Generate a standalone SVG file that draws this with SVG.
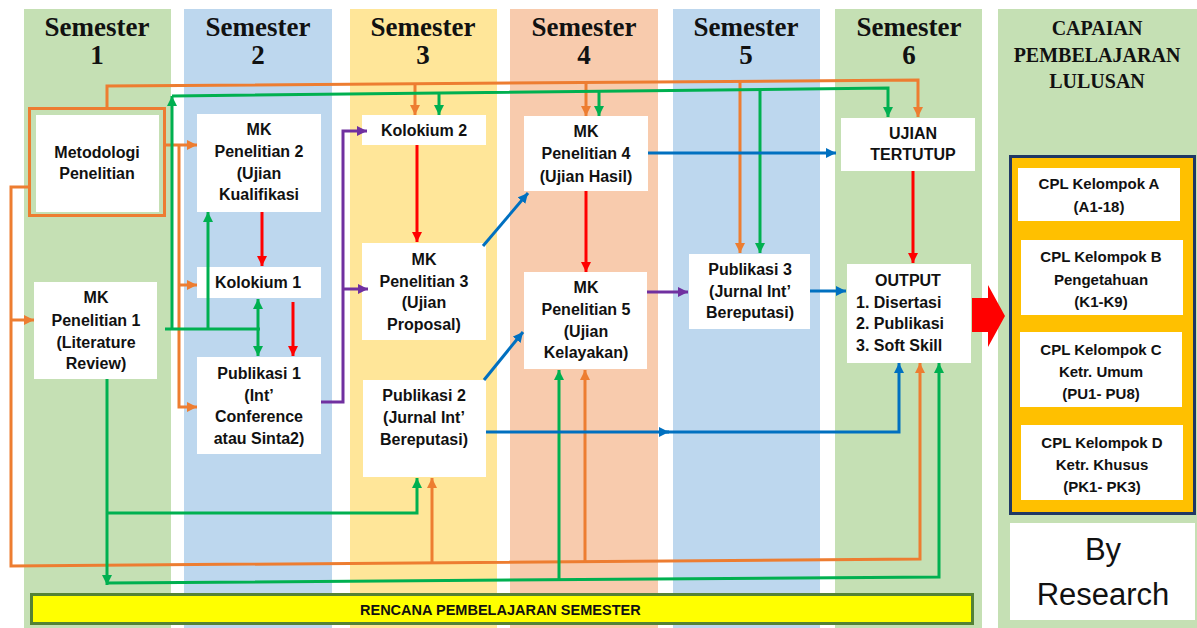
<svg xmlns="http://www.w3.org/2000/svg" width="1197" height="628" viewBox="0 0 1197 628">
<style>
.hd{font-family:"Liberation Serif","Times New Roman",serif;font-weight:bold;font-size:27px;fill:#111;text-anchor:middle}
.cp{font-family:"Liberation Serif","Times New Roman",serif;font-weight:bold;font-size:20px;fill:#111;text-anchor:middle}
.t{font-family:"Liberation Sans",Arial,sans-serif;font-weight:bold;font-size:16px;fill:#111;text-anchor:middle}
.ts{font-family:"Liberation Sans",Arial,sans-serif;font-weight:bold;font-size:15px;fill:#111;text-anchor:middle}
.tl{font-family:"Liberation Sans",Arial,sans-serif;font-weight:bold;font-size:16px;fill:#111}
.br{font-family:"Liberation Sans",Arial,sans-serif;font-size:31px;fill:#111;text-anchor:middle}
.bx{fill:#fff}
.c{fill:none;stroke-width:3}
.o{stroke:#ED7D31}.g{stroke:#00B050}.r{stroke:#FF0000}.p{stroke:#7030A0}.b{stroke:#0070C0}
</style>
<defs>
<marker id="ao" markerUnits="userSpaceOnUse" markerWidth="11" markerHeight="11" refX="10" refY="5" orient="auto-start-reverse"><path d="M0,0 L10,5 L0,10 z" fill="#ED7D31"/></marker>
<marker id="ag" markerUnits="userSpaceOnUse" markerWidth="11" markerHeight="11" refX="10" refY="5" orient="auto-start-reverse"><path d="M0,0 L10,5 L0,10 z" fill="#00B050"/></marker>
<marker id="ar" markerUnits="userSpaceOnUse" markerWidth="11" markerHeight="11" refX="10" refY="5" orient="auto-start-reverse"><path d="M0,0 L10,5 L0,10 z" fill="#FF0000"/></marker>
<marker id="ap" markerUnits="userSpaceOnUse" markerWidth="11" markerHeight="11" refX="10" refY="5" orient="auto-start-reverse"><path d="M0,0 L10,5 L0,10 z" fill="#7030A0"/></marker>
<marker id="ab" markerUnits="userSpaceOnUse" markerWidth="11" markerHeight="11" refX="10" refY="5" orient="auto-start-reverse"><path d="M0,0 L10,5 L0,10 z" fill="#0070C0"/></marker>
</defs>
<rect width="1197" height="628" fill="#fff"/>
<g id="columns">
<rect x="24" y="9" width="147" height="619" fill="#C5E0B4"/>
<rect x="184" y="9" width="148" height="619" fill="#BDD7EE"/>
<rect x="350" y="9" width="147" height="619" fill="#FFE699"/>
<rect x="510" y="9" width="148" height="619" fill="#F8CBAD"/>
<rect x="673" y="9" width="147" height="619" fill="#BDD7EE"/>
<rect x="835" y="9" width="147" height="619" fill="#C5E0B4"/>
<rect x="998" y="9" width="199" height="619" fill="#C5E0B4"/>
<text class="hd" x="97" y="36">Semester</text><text class="hd" x="97" y="64">1</text>
<text class="hd" x="258" y="36">Semester</text><text class="hd" x="258" y="64">2</text>
<text class="hd" x="423" y="36">Semester</text><text class="hd" x="423" y="64">3</text>
<text class="hd" x="584" y="36">Semester</text><text class="hd" x="584" y="64">4</text>
<text class="hd" x="746" y="36">Semester</text><text class="hd" x="746" y="64">5</text>
<text class="hd" x="909" y="36">Semester</text><text class="hd" x="909" y="64">6</text>
<text class="cp" x="1097" y="35">CAPAIAN</text>
<text class="cp" x="1097" y="62">PEMBELAJARAN</text>
<text class="cp" x="1097" y="88">LULUSAN</text>
</g>
<g id="metodologi">
<rect x="29.5" y="108.5" width="135" height="107" fill="none" stroke="#ED7D31" stroke-width="3"/>
<rect class="bx" x="36" y="115" width="123" height="97"/>
<text class="t" x="97" y="158">Metodologi</text>
<text class="t" x="97" y="179">Penelitian</text>
</g>
<g id="mk1">
<rect class="bx" x="34" y="282" width="123" height="97"/>
<text class="t" x="96" y="303">MK</text>
<text class="t" x="96" y="326">Penelitian 1</text>
<text class="t" x="96" y="348">(Literature</text>
<text class="t" x="96" y="369">Review)</text>
</g>
<g id="mk2">
<rect class="bx" x="197" y="114" width="124" height="98"/>
<text class="t" x="259" y="135">MK</text>
<text class="t" x="259" y="157">Penelitian 2</text>
<text class="t" x="259" y="179">(Ujian</text>
<text class="t" x="259" y="200">Kualifikasi</text>
</g>
<g id="kolokium1">
<rect class="bx" x="197" y="267" width="124" height="31"/>
<text class="t" x="258" y="288">Kolokium 1</text>
</g>
<g id="publikasi1">
<rect class="bx" x="197" y="357" width="124" height="97"/>
<text class="t" x="259" y="379">Publikasi 1</text>
<text class="t" x="259" y="401">(Int’</text>
<text class="t" x="259" y="422">Conference</text>
<text class="t" x="259" y="444">atau Sinta2)</text>
</g>
<g id="kolokium2">
<rect class="bx" x="362" y="115" width="124" height="30"/>
<text class="t" x="424" y="136">Kolokium 2</text>
</g>
<g id="mk3">
<rect class="bx" x="362" y="243" width="124" height="97"/>
<text class="t" x="424" y="265">MK</text>
<text class="t" x="424" y="287">Penelitian 3</text>
<text class="t" x="424" y="308">(Ujian</text>
<text class="t" x="424" y="330">Proposal)</text>
</g>
<g id="publikasi2">
<rect class="bx" x="363" y="380" width="123" height="97"/>
<text class="t" x="424" y="401">Publikasi 2</text>
<text class="t" x="424" y="423">(Jurnal Int’</text>
<text class="t" x="424" y="445">Bereputasi)</text>
</g>
<g id="mk4">
<rect class="bx" x="524" y="116" width="124" height="75"/>
<text class="t" x="586" y="137">MK</text>
<text class="t" x="586" y="159">Penelitian 4</text>
<text class="t" x="586" y="182">(Ujian Hasil)</text>
</g>
<g id="mk5">
<rect class="bx" x="524" y="272" width="123" height="97"/>
<text class="t" x="586" y="293">MK</text>
<text class="t" x="586" y="315">Penelitian 5</text>
<text class="t" x="586" y="337">(Ujian</text>
<text class="t" x="586" y="358">Kelayakan)</text>
</g>
<g id="publikasi3">
<rect class="bx" x="689" y="254" width="121" height="75"/>
<text class="t" x="750" y="275">Publikasi 3</text>
<text class="t" x="750" y="297">(Jurnal Int’</text>
<text class="t" x="750" y="318">Bereputasi)</text>
</g>
<g id="ujian">
<rect class="bx" x="841" y="118" width="134" height="53"/>
<text class="t" x="913" y="139">UJIAN</text>
<text class="t" x="913" y="160">TERTUTUP</text>
</g>
<g id="output">
<rect class="bx" x="847" y="264" width="124" height="99"/>
<text class="t" x="908" y="286">OUTPUT</text>
<text class="tl" x="856" y="308">1. Disertasi</text>
<text class="tl" x="856" y="329">2. Publikasi</text>
<text class="tl" x="856" y="351">3. Soft Skill</text>
</g>
<g id="bigarrow">
<polygon points="972,298 988,298 988,285 1005,316 988,347 988,332 972,332" fill="#FF0000"/>
</g>
<g id="cpl">
<rect x="1010.5" y="156.5" width="184" height="357" fill="#FFC000" stroke="#1F3864" stroke-width="3"/>
<rect class="bx" x="1018" y="168" width="162" height="53"/>
<text class="ts" x="1099" y="189">CPL Kelompok A</text>
<text class="ts" x="1099" y="212">(A1-18)</text>
<rect class="bx" x="1021" y="240" width="162" height="75"/>
<text class="ts" x="1101" y="262">CPL Kelompok B</text>
<text class="ts" x="1101" y="285">Pengetahuan</text>
<text class="ts" x="1101" y="307">(K1-K9)</text>
<rect class="bx" x="1020" y="332" width="162" height="75"/>
<text class="ts" x="1101" y="355">CPL Kelompok C</text>
<text class="ts" x="1101" y="377">Ketr. Umum</text>
<text class="ts" x="1101" y="399">(PU1- PU8)</text>
<rect class="bx" x="1021" y="425" width="162" height="75"/>
<text class="ts" x="1102" y="448">CPL Kelompok D</text>
<text class="ts" x="1102" y="470">Ketr. Khusus</text>
<text class="ts" x="1102" y="492">(PK1- PK3)</text>
</g>
<g id="byresearch">
<rect class="bx" x="1010" y="523" width="185" height="97"/>
<text class="br" x="1103" y="560">By</text>
<text class="br" x="1103" y="605">Research</text>
</g>
<g id="rps">
<rect x="31.5" y="594.5" width="941" height="29" fill="#FFFF00" stroke="#548235" stroke-width="3"/>
<text class="tl" style="font-size:14.5px" x="360" y="615">RENCANA PEMBELAJARAN SEMESTER</text>
</g>
<g id="connectors">
<path class="c o" d="M107,107 L107,86 L918,80 L918,117" marker-end="url(#ao)"/>
<path class="c o" d="M415,83 L415,115" marker-end="url(#ao)"/>
<path class="c o" d="M586,82 L586,116" marker-end="url(#ao)"/>
<path class="c o" d="M740,81 L740,253" marker-end="url(#ao)"/>
<path class="c o" d="M164,145 L197,145" marker-end="url(#ao)"/>
<path class="c o" d="M179,145 L179,407 L197,407" marker-end="url(#ao)"/>
<path class="c o" d="M179,285 L197,285" marker-end="url(#ao)"/>
<path class="c o" d="M28,187 L11,187 L11,566 L920,559 L920,363" marker-end="url(#ao)"/>
<path class="c o" d="M11,320 L34,320" marker-end="url(#ao)"/>
<path class="c o" d="M432,563 L432,478" marker-end="url(#ao)"/>
<path class="c o" d="M585,562 L585,370" marker-end="url(#ao)"/>
<path class="c g" d="M165,329 L260,329"/>
<path class="c g" d="M172,329 L172,96" marker-end="url(#ag)"/>
<path class="c g" d="M172,96 L888,88 L888,117" marker-end="url(#ag)"/>
<path class="c g" d="M439,93 L439,115" marker-end="url(#ag)"/>
<path class="c g" d="M599,92 L599,116" marker-end="url(#ag)"/>
<path class="c g" d="M760,90 L760,253" marker-end="url(#ag)"/>
<path class="c g" d="M208,329 L208,212" marker-end="url(#ag)"/>
<path class="c g" d="M258,299 L258,356" marker-start="url(#ag)" marker-end="url(#ag)"/>
<path class="c g" d="M107,379 L107,585" marker-end="url(#ag)"/>
<path class="c g" d="M107,513 L417,513 L417,478" marker-end="url(#ag)"/>
<path class="c g" d="M107,583 L939,577 L939,363" marker-end="url(#ag)"/>
<path class="c g" d="M559,581 L559,370" marker-end="url(#ag)"/>
<path class="c r" d="M262,212 L262,266" marker-end="url(#ar)"/>
<path class="c r" d="M293,302 L293,356" marker-end="url(#ar)"/>
<path class="c r" d="M417,145 L417,242" marker-end="url(#ar)"/>
<path class="c r" d="M586,191 L586,272" marker-end="url(#ar)"/>
<path class="c r" d="M913,171 L913,263" marker-end="url(#ar)"/>
<path class="c p" d="M321,402 L343,402 L343,131 L367,131" marker-end="url(#ap)"/>
<path class="c p" d="M343,289 L368,289" marker-end="url(#ap)"/>
<path class="c p" d="M647,292 L688,292" marker-end="url(#ap)"/>
<path class="c b" d="M483,246 L528,193" marker-end="url(#ab)"/>
<path class="c b" d="M484,380 L523,332" marker-end="url(#ab)"/>
<path class="c b" d="M648,153 L836,153" marker-end="url(#ab)"/>
<path class="c b" d="M810,291 L846,291" marker-end="url(#ab)"/>
<path class="c b" d="M486,432 L669,432" marker-end="url(#ab)"/>
<path class="c b" d="M666,432 L899,432 L899,363" marker-end="url(#ab)"/>
</g>
</svg>
